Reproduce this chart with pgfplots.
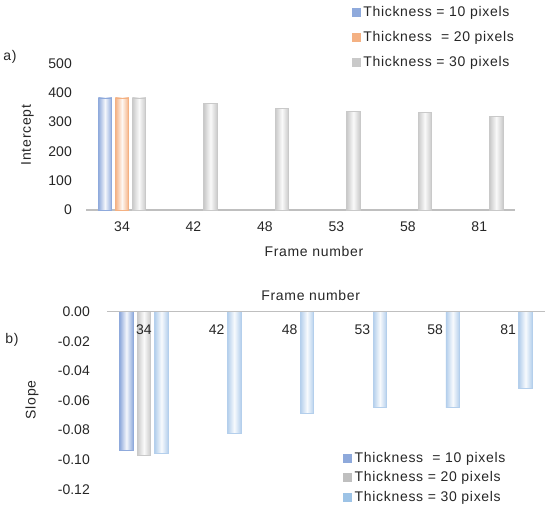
\documentclass[border=0pt]{standalone}
\usepackage{pgfplots}
\pgfplotsset{compat=1.18}
\usepackage{fontspec}
\setmainfont{Liberation Sans}
\newfontfamily\spaced{Liberation Sans}[LetterSpace=5]
\definecolor{tb}{HTML}{8FAADC}
\definecolor{to}{HTML}{F4B183}
\definecolor{tg}{HTML}{C9C9C9}
\definecolor{bbl}{HTML}{8EA9DB}
\definecolor{bgl}{HTML}{BFBFBF}
\definecolor{bll}{HTML}{9DC3E6}
\definecolor{bl}{HTML}{B4CFEC}
\definecolor{axisgray}{HTML}{BFBFBF}
\begin{document}
\begin{tikzpicture}[x=1pt,y=1pt]
\useasboundingbox (0,0) rectangle (550,506);
\pgfplotsset{
  common/.style={
    scale only axis, anchor=south west,
    axis y line*=left, y axis line style={draw=none},
    x axis line style={draw=axisgray, line width=1.2pt},
    major tick length=0pt,
    xmin=-0.5, xmax=5.5,
    xtick={0,1,2,3,4,5}, xticklabels={34,42,48,53,58,81},
    /pgf/number format/assume math mode=true,
    tick label style={font=\fontsize{14}{16}\selectfont, text=black!85},
    label style={font=\spaced\fontsize{14}{16}\selectfont, text=black!85},
    legend style={font=\spaced\fontsize{14}{16}\selectfont, draw=none, fill=none, inner sep=0pt,
      nodes={inner xsep=3pt, inner ysep=2pt, text=black!85}},
    legend cell align=left,
    clip=false,
  },
  barT/.style={ybar, bar width=13.5pt, line width=0.8pt, draw=#1, left color=#1, right color=#1, middle color=#1!10, forget plot},
}
% ---------- a) ----------
\begin{axis}[common,
  at={(86.3pt,296pt)}, width=428.7pt, height=146.7pt,
  ymin=0, ymax=500, ytick={0,100,200,300,400,500},
  axis x line*=bottom,
  xticklabel style={anchor=north, inner sep=0pt, yshift=-11.7pt},
  yticklabel style={anchor=east, inner sep=0pt, xshift=-14.3pt},
  xlabel={Frame number},
  xlabel style={at={(axis description cs:0.531,-0.284)}, anchor=center},
  ylabel={Intercept},
  ylabel style={at={(axis description cs:-0.137,0.511)}, anchor=center},
  legend style={at={(axis description cs:0.619,1.40)}, anchor=north west, row sep=9pt},
]
% Thickness = 10 pixels
\addplot[barT=tb, bar shift=-17pt] coordinates {(0,382)};
% Thickness = 20 pixels
\addplot[barT=to, bar shift=0pt] coordinates {(0,382)};
% Thickness = 30 pixels
\addplot[barT=tg, bar shift=17pt] coordinates {(0,382)};
\addplot[barT=tg, bar shift=17pt] coordinates {(1,364)};
\addplot[barT=tg, bar shift=17pt] coordinates {(2,346)};
\addplot[barT=tg, bar shift=17pt] coordinates {(3,337)};
\addplot[barT=tg, bar shift=17pt] coordinates {(4,333)};
\addplot[barT=tg, bar shift=17pt] coordinates {(5,319)};
\addlegendimage{legend image code/.code={\fill[tb] (0pt,-4pt) rectangle (8pt,4pt);}}
\addlegendentry{Thickness = 10 pixels}
\addlegendimage{legend image code/.code={\fill[to] (0pt,-4pt) rectangle (8pt,4pt);}}
\addlegendentry{Thickness\ \ = 20 pixels}
\addlegendimage{legend image code/.code={\fill[tg] (0pt,-4pt) rectangle (8pt,4pt);}}
\addlegendentry{Thickness = 30 pixels}
\end{axis}
% ---------- b) ----------
\begin{axis}[common, axis on top,
  at={(107.5pt,16.7pt)}, width=437pt, height=177.6pt,
  ymin=-0.12, ymax=0, ytick={-0.12,-0.1,-0.08,-0.06,-0.04,-0.02,0},
  axis x line*=top,
  xticklabel style={anchor=north, inner sep=0pt, yshift=-13.3pt},
  yticklabel style={anchor=east, inner sep=0pt, xshift=-17.5pt,
    /pgf/number format/fixed, /pgf/number format/fixed zerofill, /pgf/number format/precision=2},
  scaled y ticks=false,
  xlabel={Frame number},
  xlabel style={at={(axis description cs:0.465,1.094)}, anchor=center},
  ylabel={Slope},
  ylabel style={at={(axis description cs:-0.173,0.503)}, anchor=center},
  legend style={at={(axis description cs:0.539,0.222)}, anchor=north west, row sep=4pt},
]
% Thickness = 10 pixels
\addplot[barT=tb, bar shift=-17.5pt] coordinates {(0,-0.094)};
% Thickness = 20 pixels
\addplot[barT=tg, bar shift=0pt] coordinates {(0,-0.097)};
% Thickness = 30 pixels
\addplot[barT=bl, bar shift=17.5pt] coordinates {(0,-0.096)};
\addplot[barT=bl, bar shift=17.5pt] coordinates {(1,-0.082)};
\addplot[barT=bl, bar shift=17.5pt] coordinates {(2,-0.069)};
\addplot[barT=bl, bar shift=17.5pt] coordinates {(3,-0.065)};
\addplot[barT=bl, bar shift=17.5pt] coordinates {(4,-0.0645)};
\addplot[barT=bl, bar shift=17.5pt] coordinates {(5,-0.052)};
\addlegendimage{legend image code/.code={\fill[bbl] (0pt,-4pt) rectangle (8pt,4pt);}}
\addlegendentry{Thickness\ \ = 10 pixels}
\addlegendimage{legend image code/.code={\fill[bgl] (0pt,-4pt) rectangle (8pt,4pt);}}
\addlegendentry{Thickness = 20 pixels}
\addlegendimage{legend image code/.code={\fill[bll] (0pt,-4pt) rectangle (8pt,4pt);}}
\addlegendentry{Thickness = 30 pixels}
\end{axis}
\node[font=\spaced\fontsize{14}{16}\selectfont, text=black!85] at (10,449) {a)};
\node[font=\spaced\fontsize{14}{16}\selectfont, text=black!85] at (12,166) {b)};
\end{tikzpicture}
\end{document}
